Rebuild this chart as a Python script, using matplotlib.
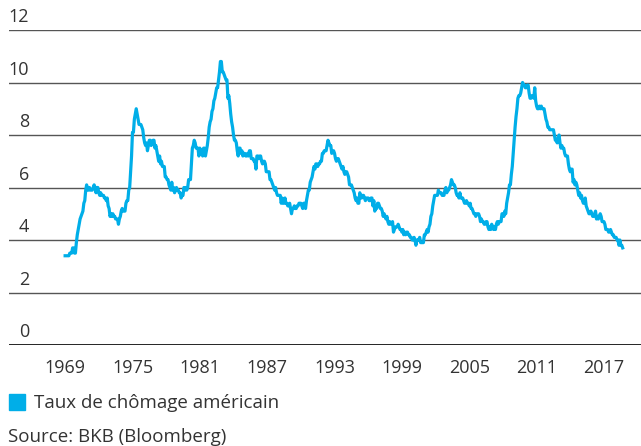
import matplotlib
matplotlib.use("Agg")
import matplotlib.pyplot as plt
import matplotlib.transforms as mtransforms
import numpy as np

# monthly US unemployment rate (%), Jan 1969 .. Sep 2018
rate_by_year = {
    1969: [3.4, 3.4, 3.4, 3.4, 3.4, 3.5, 3.5, 3.5, 3.7, 3.7, 3.5, 3.5],
    1970: [3.9, 4.2, 4.4, 4.6, 4.8, 4.9, 5.0, 5.1, 5.4, 5.5, 5.9, 6.1],
    1971: [5.9, 5.9, 6.0, 5.9, 5.9, 5.9, 6.0, 6.1, 6.0, 5.8, 6.0, 6.0],
    1972: [5.8, 5.7, 5.8, 5.7, 5.7, 5.7, 5.6, 5.6, 5.5, 5.6, 5.3, 5.2],
    1973: [4.9, 5.0, 4.9, 5.0, 4.9, 4.9, 4.8, 4.8, 4.8, 4.6, 4.8, 4.9],
    1974: [5.1, 5.2, 5.1, 5.1, 5.1, 5.4, 5.5, 5.5, 5.9, 6.0, 6.6, 7.2],
    1975: [8.1, 8.1, 8.6, 8.8, 9.0, 8.8, 8.6, 8.4, 8.4, 8.4, 8.3, 8.2],
    1976: [7.9, 7.7, 7.6, 7.7, 7.4, 7.6, 7.8, 7.8, 7.6, 7.7, 7.8, 7.8],
    1977: [7.5, 7.6, 7.4, 7.2, 7.0, 7.2, 6.9, 7.0, 6.8, 6.8, 6.8, 6.4],
    1978: [6.4, 6.3, 6.3, 6.1, 6.0, 5.9, 6.2, 5.9, 6.0, 5.8, 5.9, 6.0],
    1979: [5.9, 5.9, 5.8, 5.8, 5.6, 5.7, 5.7, 6.0, 5.9, 6.0, 5.9, 6.0],
    1980: [6.3, 6.3, 6.3, 6.9, 7.5, 7.6, 7.8, 7.7, 7.5, 7.5, 7.5, 7.2],
    1981: [7.5, 7.4, 7.4, 7.2, 7.5, 7.5, 7.2, 7.4, 7.6, 7.9, 8.3, 8.5],
    1982: [8.6, 8.9, 9.0, 9.3, 9.4, 9.6, 9.8, 9.8, 10.1, 10.4, 10.8, 10.8],
    1983: [10.4, 10.4, 10.3, 10.2, 10.1, 10.1, 9.4, 9.5, 9.2, 8.8, 8.5, 8.3],
    1984: [8.0, 7.8, 7.8, 7.7, 7.4, 7.2, 7.5, 7.5, 7.3, 7.4, 7.2, 7.3],
    1985: [7.3, 7.2, 7.2, 7.3, 7.2, 7.4, 7.4, 7.1, 7.1, 7.1, 7.0, 7.0],
    1986: [6.7, 7.2, 7.2, 7.1, 7.2, 7.2, 7.0, 6.9, 7.0, 7.0, 6.9, 6.6],
    1987: [6.6, 6.6, 6.6, 6.3, 6.3, 6.2, 6.1, 6.0, 5.9, 6.0, 5.8, 5.7],
    1988: [5.7, 5.7, 5.7, 5.4, 5.6, 5.4, 5.4, 5.6, 5.4, 5.4, 5.3, 5.3],
    1989: [5.4, 5.2, 5.0, 5.2, 5.2, 5.3, 5.2, 5.2, 5.3, 5.3, 5.4, 5.4],
    1990: [5.4, 5.3, 5.2, 5.4, 5.4, 5.2, 5.5, 5.7, 5.9, 5.9, 6.2, 6.3],
    1991: [6.4, 6.6, 6.8, 6.7, 6.9, 6.9, 6.8, 6.9, 6.9, 7.0, 7.0, 7.3],
    1992: [7.3, 7.4, 7.4, 7.4, 7.6, 7.8, 7.7, 7.6, 7.6, 7.3, 7.4, 7.4],
    1993: [7.3, 7.1, 7.0, 7.1, 7.1, 7.0, 6.9, 6.8, 6.7, 6.8, 6.6, 6.5],
    1994: [6.6, 6.6, 6.5, 6.4, 6.1, 6.1, 6.1, 6.0, 5.9, 5.8, 5.6, 5.5],
    1995: [5.6, 5.4, 5.4, 5.8, 5.6, 5.6, 5.7, 5.7, 5.6, 5.5, 5.6, 5.6],
    1996: [5.6, 5.5, 5.5, 5.6, 5.6, 5.3, 5.5, 5.1, 5.2, 5.2, 5.4, 5.4],
    1997: [5.3, 5.2, 5.2, 5.1, 4.9, 5.0, 4.9, 4.8, 4.9, 4.7, 4.6, 4.7],
    1998: [4.6, 4.6, 4.7, 4.3, 4.4, 4.5, 4.5, 4.5, 4.6, 4.5, 4.4, 4.4],
    1999: [4.3, 4.4, 4.2, 4.3, 4.2, 4.3, 4.3, 4.2, 4.2, 4.1, 4.1, 4.0],
    2000: [4.0, 4.1, 4.0, 3.8, 4.0, 4.0, 4.0, 4.1, 3.9, 3.9, 3.9, 3.9],
    2001: [4.2, 4.2, 4.3, 4.4, 4.3, 4.5, 4.6, 4.9, 5.0, 5.3, 5.5, 5.7],
    2002: [5.7, 5.7, 5.7, 5.9, 5.8, 5.8, 5.8, 5.7, 5.7, 5.7, 5.9, 6.0],
    2003: [5.8, 5.9, 5.9, 6.0, 6.1, 6.3, 6.2, 6.1, 6.1, 6.0, 5.8, 5.7],
    2004: [5.7, 5.6, 5.8, 5.6, 5.6, 5.6, 5.5, 5.4, 5.4, 5.5, 5.4, 5.4],
    2005: [5.3, 5.4, 5.2, 5.2, 5.1, 5.0, 5.0, 4.9, 5.0, 5.0, 5.0, 4.9],
    2006: [4.7, 4.8, 4.7, 4.7, 4.6, 4.6, 4.7, 4.7, 4.5, 4.4, 4.5, 4.4],
    2007: [4.6, 4.5, 4.4, 4.5, 4.4, 4.6, 4.7, 4.6, 4.7, 4.7, 4.7, 5.0],
    2008: [5.0, 4.9, 5.1, 5.0, 5.4, 5.6, 5.8, 6.1, 6.1, 6.5, 6.8, 7.3],
    2009: [7.8, 8.3, 8.7, 9.0, 9.4, 9.5, 9.5, 9.6, 9.8, 10.0, 9.9, 9.9],
    2010: [9.8, 9.8, 9.9, 9.9, 9.6, 9.4, 9.4, 9.5, 9.5, 9.4, 9.8, 9.3],
    2011: [9.1, 9.0, 9.0, 9.1, 9.0, 9.1, 9.0, 9.0, 9.0, 8.8, 8.6, 8.5],
    2012: [8.3, 8.3, 8.2, 8.2, 8.2, 8.2, 8.2, 8.0, 7.8, 7.8, 7.7, 7.9],
    2013: [8.0, 7.7, 7.5, 7.6, 7.5, 7.5, 7.3, 7.2, 7.2, 7.2, 6.9, 6.7],
    2014: [6.6, 6.7, 6.7, 6.2, 6.3, 6.1, 6.2, 6.1, 5.9, 5.7, 5.8, 5.6],
    2015: [5.7, 5.5, 5.4, 5.4, 5.6, 5.3, 5.2, 5.1, 5.0, 5.0, 5.1, 5.0],
    2016: [4.9, 4.9, 5.0, 5.1, 4.8, 4.9, 4.8, 4.9, 5.0, 4.9, 4.7, 4.7],
    2017: [4.7, 4.6, 4.4, 4.4, 4.4, 4.3, 4.3, 4.4, 4.3, 4.2, 4.2, 4.1],
    2018: [4.1, 4.1, 4.0, 4.0, 3.8, 4.0, 3.8, 3.8, 3.7],
}
year_ticks = [1969, 1975, 1981, 1987, 1993, 1999, 2005, 2011, 2017]
y_ticks = [0, 2, 4, 6, 8, 10, 12]
series_label = "Taux de chômage américain"
source_text = "Source: BKB (Bloomberg)"

dates = []
rates = []
for yr, vals in rate_by_year.items():
    for m, v in enumerate(vals):
        dates.append(yr + m / 12.0)
        rates.append(v)

blue = "#00aee8"
txt = "#333333"
plt.rcParams["font.family"] = ["Open Sans", "DejaVu Sans"]

fig = plt.figure(figsize=(6.41, 4.46), dpi=100)
ax = fig.add_axes([9 / 641, 1 - 345 / 446, 632 / 641, 315 / 446])

for yv in y_ticks[1:]:
    ax.axhline(yv, color="#555555", lw=1.0, zorder=1)
ax.axhline(0, color="#111111", lw=2.0, zorder=3)

ax.plot(dates, rates, color=blue, lw=2.3, solid_joinstyle="round", zorder=2)

ax.set_xlim(1964.0, 2020.3)
ax.set_ylim(0, 12)
ax.set_xticks(year_ticks)
ax.set_xticklabels([str(y) for y in year_ticks], fontsize=13, color=txt)
ax.tick_params(axis="x", length=0, pad=10)
ax.set_yticks([])
for s in ax.spines.values():
    s.set_visible(False)

# y labels sit above each gridline
trans = mtransforms.blended_transform_factory(fig.transFigure, ax.transData)
for yv in y_ticks:
    ax.text(29 / 641, yv + 0.15, str(yv), transform=trans, ha="right",
            va="bottom", fontsize=13, color=txt)

# legend and source
fig.patches.append(plt.Rectangle((9 / 641, 1 - 410 / 446), 16 / 641, 16 / 446,
                                 transform=fig.transFigure, color=blue))
fig.text(34 / 641, 1 - 403 / 446, series_label, ha="left", va="center",
         fontsize=13.5, color=txt)
fig.text(8 / 641, 1 - 437 / 446, source_text, ha="left", va="center",
         fontsize=13.5, color=txt)

fig.savefig("out.png", dpi=100)
